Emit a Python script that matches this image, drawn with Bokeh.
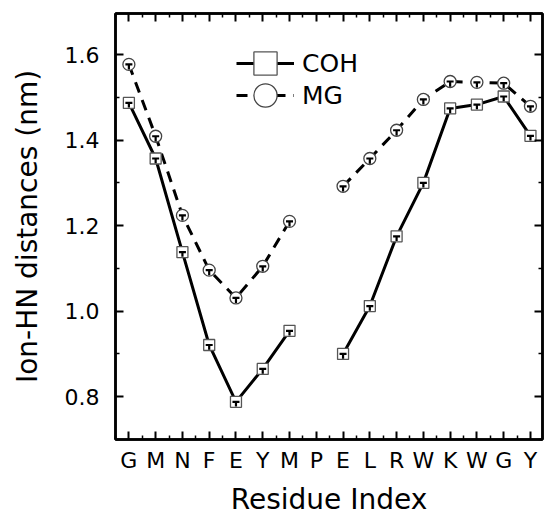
from bokeh.plotting import figure
from bokeh.models import (Range1d, FixedTicker, LinearAxis, Legend, LegendItem,
                          Whisker, TeeHead, ColumnDataSource, PrintfTickFormatter)
from bokeh.embed import file_html
from bokeh.resources import INLINE

nan = float("nan")
residues = ["G", "M", "N", "F", "E", "Y", "M", "P", "E", "L", "R", "W", "K", "W", "G", "Y"]
coh = [1.487, 1.357, 1.138, 0.921, 0.788, 0.865, 0.954, nan, 0.900, 1.012, 1.175, 1.300, 1.474, 1.483, 1.502, 1.410]
mg = [1.577, 1.409, 1.224, 1.096, 1.031, 1.105, 1.210, nan, 1.292, 1.357, 1.423, 1.495, 1.537, 1.535, 1.533, 1.479]
coh_err = [0.011, 0.011, 0.011, 0.011, 0.011, 0.011, 0.011, nan, 0.011, 0.011, 0.011, 0.011, 0.011, 0.011, 0.011, 0.011]
mg_err = [0.012, 0.012, 0.012, 0.012, 0.012, 0.012, 0.012, nan, 0.012, 0.012, 0.012, 0.012, 0.012, 0.012, 0.012, 0.012]
y_ticks = [0.8, 1.0, 1.2, 1.4, 1.6]
y_minor = [0.7, 0.9, 1.1, 1.3, 1.5, 1.7]

idx = list(range(len(residues)))
x_minor = [i - 0.5 for i in range(len(residues) + 1)]

FONT = "DejaVu Sans"

p = figure(width=545, height=518, output_backend="svg", toolbar_location=None,
           x_range=Range1d(-0.5, 15.45), y_range=Range1d(0.70, 1.696),
           x_axis_location=None, y_axis_location=None)
p.min_border_left = 115
p.min_border_right = 3
p.min_border_top = 13
p.min_border_bottom = 79
p.xgrid.visible = False
p.ygrid.visible = False
p.outline_line_color = "black"
p.outline_line_width = 2.5
p.background_fill_color = "white"
p.border_fill_color = "white"

xt = FixedTicker(ticks=idx, minor_ticks=x_minor)
yt = FixedTicker(ticks=y_ticks, minor_ticks=y_minor)


def style(ax, labels=True):
    ax.axis_line_width = 2.5
    ax.axis_line_color = "black"
    ax.major_tick_in = 8
    ax.major_tick_out = 0
    ax.minor_tick_in = 4
    ax.minor_tick_out = 0
    ax.major_tick_line_width = 2
    ax.minor_tick_line_width = 1.5
    ax.major_tick_line_color = "black"
    ax.minor_tick_line_color = "black"
    if labels:
        ax.major_label_text_font = FONT
        ax.major_label_text_font_size = "22px"
        ax.major_label_text_color = "black"
        ax.axis_label_text_font = FONT
        ax.axis_label_text_font_size = "28px"
        ax.axis_label_text_font_style = "normal"
        ax.axis_label_text_color = "black"
    else:
        ax.major_label_text_font_size = "1px"
        ax.major_label_text_color = None
        ax.major_label_standoff = 0


xb = LinearAxis(ticker=xt, axis_label="Residue Index",
                major_label_overrides={i: r for i, r in enumerate(residues)})
style(xb)
xb.major_label_standoff = 8
xb.axis_label_standoff = 7
p.add_layout(xb, "below")

yl = LinearAxis(ticker=yt, axis_label="Ion-HN distances (nm)",
                formatter=PrintfTickFormatter(format="%.1f"))
style(yl)
yl.major_label_standoff = 16
yl.axis_label_standoff = 18
p.add_layout(yl, "left")

xa = LinearAxis(ticker=xt)
style(xa, labels=False)
p.add_layout(xa, "above")

yr = LinearAxis(ticker=yt)
style(yr, labels=False)
p.add_layout(yr, "right")

src = ColumnDataSource(dict(
    x=idx, coh=coh, mg=mg,
    coh_lo=[c - e for c, e in zip(coh, coh_err)],
    mg_lo=[m - e for m, e in zip(mg, mg_err)],
))

l_coh = p.line("x", "coh", source=src, line_color="black", line_width=3)
l_mg = p.line("x", "mg", source=src, line_color="black", line_width=3, line_dash="11 8")
s_coh = p.scatter("x", "coh", source=src, marker="square", size=11,
                  fill_color="white", line_color="#555555", line_width=1.3)
s_mg = p.scatter("x", "mg", source=src, marker="circle", size=12,
                 fill_color="white", line_color="#444444", line_width=1.3)

for hi, lo in (("coh", "coh_lo"), ("mg", "mg_lo")):
    w = Whisker(source=src, base="x", upper=hi, lower=lo, level="overlay",
                upper_head=TeeHead(size=7, line_width=2.2, line_color="black"),
                lower_head=None, line_width=2.2, line_color="black")
    p.add_layout(w)

common = dict(orientation="vertical", glyph_width=58, glyph_height=58, label_height=58,
              spacing=0, padding=0, margin=0, label_standoff=8,
              background_fill_alpha=0, border_line_alpha=0,
              label_text_font=FONT, label_text_font_size="25px",
              label_text_color="black")
leg1 = Legend(items=[LegendItem(label="COH", renderers=[l_coh, s_coh])],
              location=(121, 347), **common)
leg2 = Legend(items=[LegendItem(label="MG", renderers=[l_mg, s_mg])],
              location=(121, 315), **common)
p.add_layout(leg1, "center")
p.add_layout(leg2, "center")

open("out.html", "w").write(file_html(p, INLINE))
